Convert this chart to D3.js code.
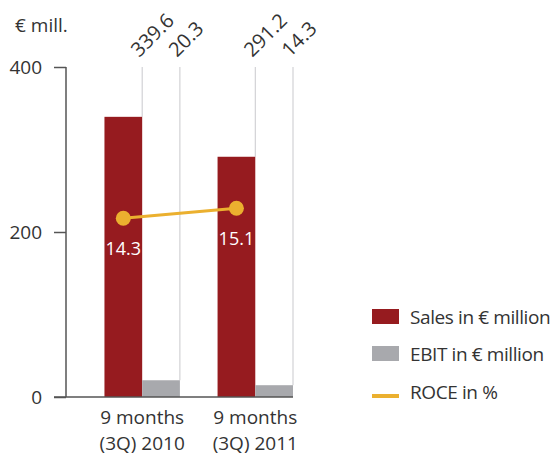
<!DOCTYPE html>
<html>
<head>
<meta charset="utf-8">
<script src="https://cdn.jsdelivr.net/npm/d3@7"></script>
<style>
  body { margin: 0; background: #fff; }
  svg text { font-family: "Open Sans", sans-serif; fill: #333; }
</style>
</head>
<body>
<svg id="chart" width="551" height="455"></svg>
<script>
// chart data
const categories = ['9 months (3Q) 2010', '9 months (3Q) 2011'];
const catLines = [['9 months', '(3Q) 2010'], ['9 months', '(3Q) 2011']];
const series = ['Sales', 'EBIT'];
const sales = [339.6, 291.2];
const ebit = [20.3, 14.3];
const roce = [14.3, 15.1];
const yTicks = [0, 200, 400];
const legendLabels = ['Sales in € million', 'EBIT in € million', 'ROCE in %'];

const colors = { Sales: '#961b1f', EBIT: '#a8a9ad', ROCE: '#ebb02f' };

const svg = d3.select('#chart');

const y = d3.scaleLinear().domain([0, 400]).range([397, 67]);
const yRoce = d3.scaleLinear().domain([0, 26.4]).range([397, 67]);

const x0 = d3.scaleBand()
    .domain(categories)
    .range([66, 293])
    .paddingInner(0.333)
    .paddingOuter(0.17)
    .align(1);
const x1 = d3.scaleBand().domain(series).range([0, x0.bandwidth()]);

const rows = categories.map((c, i) => ({ cat: c, Sales: sales[i], EBIT: ebit[i], ROCE: roce[i] }));

// thin grey guide lines at the right edge of every bar, value on top
rows.forEach(r => {
    series.forEach(s => {
        const lx = x0(r.cat) + x1(s) + x1.bandwidth();
        svg.append('line')
            .attr('x1', lx).attr('x2', lx)
            .attr('y1', y(400)).attr('y2', y(r[s]))
            .attr('stroke', '#c9c9cd').attr('stroke-width', 1);
        svg.append('text')
            .attr('transform', 'translate(' + (lx - 3) + ',' + (y(400) - 9) + ') rotate(-45)')
            .attr('font-size', 20)
            .text(d3.format('.1f')(r[s]));
    });
});

// bars
const groups = svg.selectAll('g.cat').data(rows).enter()
    .append('g').attr('class', 'cat')
    .attr('transform', d => 'translate(' + x0(d.cat) + ',0)');

groups.selectAll('rect').data(d => series.map(s => ({ key: s, value: d[s] }))).enter()
    .append('rect')
    .attr('x', d => x1(d.key))
    .attr('width', x1.bandwidth())
    .attr('y', d => y(d.value))
    .attr('height', d => y(0) - y(d.value))
    .attr('fill', d => colors[d.key]);

// y axis
const yAxis = d3.axisLeft(y).tickValues(yTicks).tickSize(12).tickPadding(12);
const gy = svg.append('g').attr('transform', 'translate(66,0)').call(yAxis);
gy.select('.domain').remove();
gy.selectAll('.tick line').attr('stroke', '#555').attr('stroke-width', 1.5);
gy.selectAll('.tick text').attr('font-size', 19).attr('font-family', '"Open Sans", sans-serif').attr('fill', '#333');
svg.append('line')
    .attr('x1', 66).attr('x2', 66).attr('y1', y(400)).attr('y2', y(0))
    .attr('stroke', '#555').attr('stroke-width', 1.5);
svg.append('line')
    .attr('x1', 54).attr('x2', 293).attr('y1', y(0)).attr('y2', y(0))
    .attr('stroke', '#555').attr('stroke-width', 1.5);

svg.append('text').attr('x', 15).attr('y', 32).attr('font-size', 19).text('€ mill.');

// category labels
catLines.forEach((lines, i) => {
    const cx = x0(categories[i]) + x0.bandwidth() / 2;
    lines.forEach((t, j) => {
        svg.append('text')
            .attr('x', cx).attr('y', 424 + j * 26)
            .attr('text-anchor', 'middle').attr('font-size', 19)
            .text(t);
    });
});

// ROCE line and points
const px = d => x0(d.cat) + x1('Sales') + x1.bandwidth() / 2;
svg.append('path')
    .datum(rows)
    .attr('d', d3.line().x(px).y(d => yRoce(d.ROCE)))
    .attr('fill', 'none')
    .attr('stroke', colors.ROCE)
    .attr('stroke-width', 3);

svg.selectAll('circle.roce').data(rows).enter()
    .append('circle')
    .attr('cx', px)
    .attr('cy', d => yRoce(d.ROCE))
    .attr('r', 7.5)
    .attr('fill', colors.ROCE);

svg.selectAll('text.roce').data(rows).enter()
    .append('text')
    .attr('x', px)
    .attr('y', d => yRoce(d.ROCE) + 37)
    .attr('text-anchor', 'middle')
    .attr('font-size', 18)
    .style('fill', '#fff')
    .text(d => d3.format('.1f')(d.ROCE));

// legend
const legend = svg.append('g').attr('transform', 'translate(372,0)');
legend.append('rect').attr('x', 0).attr('y', 309).attr('width', 27).attr('height', 15).attr('fill', colors.Sales);
legend.append('rect').attr('x', 0).attr('y', 346).attr('width', 27).attr('height', 15).attr('fill', colors.EBIT);
legend.append('rect').attr('x', 0).attr('y', 394).attr('width', 27).attr('height', 4).attr('fill', colors.ROCE);
[324, 361, 399].forEach((ly, i) => {
    legend.append('text').attr('x', 38).attr('y', ly)
        .attr('font-size', 19).attr('letter-spacing', -0.4)
        .text(legendLabels[i]);
});
</script>
</body>
</html>
